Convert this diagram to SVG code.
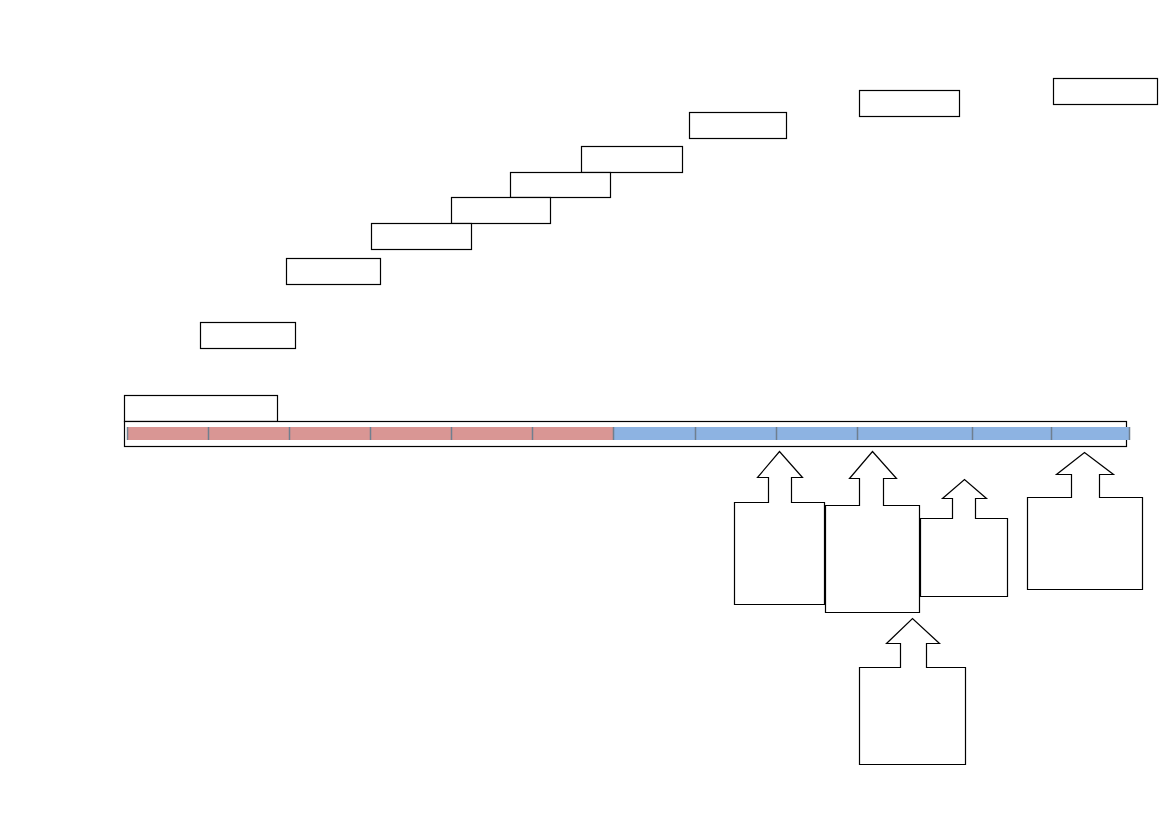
<svg xmlns="http://www.w3.org/2000/svg" width="1169" height="827" viewBox="0 0 1169 827">
<style>
.box{fill:#fff;stroke:#000;stroke-width:1.2}
.red{fill:#d99694}
.blue{fill:#8db3e2}
.sep{stroke:#6f7f8f;stroke-width:1.5}
</style>
<rect width="1169" height="827" fill="#fff"/>
<g id="steps">
<rect id="s10" class="box" x="1053.5" y="78.5" width="104" height="26"/>
<rect id="s9" class="box" x="859.5" y="90.5" width="100" height="26"/>
<rect id="s8" class="box" x="689.5" y="112.5" width="97" height="26"/>
<rect id="s7" class="box" x="581.5" y="146.5" width="101" height="26"/>
<rect id="s6" class="box" x="510.5" y="172.5" width="100" height="25"/>
<rect id="s5" class="box" x="451.5" y="197.5" width="99" height="26"/>
<rect id="s4" class="box" x="371.5" y="223.5" width="100" height="26"/>
<rect id="s3" class="box" x="286.5" y="258.5" width="94" height="26"/>
<rect id="s2" class="box" x="200.5" y="322.5" width="95" height="26"/>
</g>
<g id="timeline">
<rect id="label" class="box" x="124.5" y="395.5" width="153" height="26"/>
<rect id="bar" class="box" x="124.5" y="421.5" width="1002" height="25"/>
<rect class="red" x="127" y="427" width="487" height="13"/>
<rect class="blue" x="614" y="427" width="516" height="13"/>
<g class="sep">
<line x1="127.5" y1="427" x2="127.5" y2="440"/>
<line x1="208.5" y1="427" x2="208.5" y2="440"/>
<line x1="289.5" y1="427" x2="289.5" y2="440"/>
<line x1="370.5" y1="427" x2="370.5" y2="440"/>
<line x1="451.5" y1="427" x2="451.5" y2="440"/>
<line x1="532.5" y1="427" x2="532.5" y2="440"/>
<line x1="613.5" y1="427" x2="613.5" y2="440"/>
<line x1="695.5" y1="427" x2="695.5" y2="440"/>
<line x1="776.5" y1="427" x2="776.5" y2="440"/>
<line x1="857.5" y1="427" x2="857.5" y2="440"/>
<line x1="972.5" y1="427" x2="972.5" y2="440"/>
<line x1="1051.5" y1="427" x2="1051.5" y2="440"/>
<line x1="1129.5" y1="427" x2="1129.5" y2="440"/>
</g>
</g>
<g id="callout1">
<path class="box" d="M734.5,502.5 H768.5 V477.5 H757.5 L779.5,451.5 L802.5,477.5 H791.5 V502.5 H824.5 V604.5 H734.5 Z"/>
</g>
<g id="callout2">
<path class="box" d="M825.5,505.5 H859.5 V478.5 H849.5 L872.5,451.5 L896.5,478.5 H883.5 V505.5 H919.5 V612.5 H825.5 Z"/>
</g>
<g id="callout3">
<path class="box" d="M920.5,518.5 H952.5 V498.5 H942.5 L964.5,479.5 L986.5,498.5 H975.5 V518.5 H1007.5 V596.5 H920.5 Z"/>
</g>
<g id="callout4">
<path class="box" d="M1027.5,497.5 H1071.5 V474.5 H1056.5 L1084.5,452.5 L1113.5,474.5 H1099.5 V497.5 H1142.5 V589.5 H1027.5 Z"/>
</g>
<g id="callout5">
<path class="box" d="M859.5,667.5 H900.5 V643.5 H886.5 L912.5,618.5 L939.5,643.5 H926.5 V667.5 H965.5 V764.5 H859.5 Z"/>
</g>
<g id="connectors"/>
</svg>
